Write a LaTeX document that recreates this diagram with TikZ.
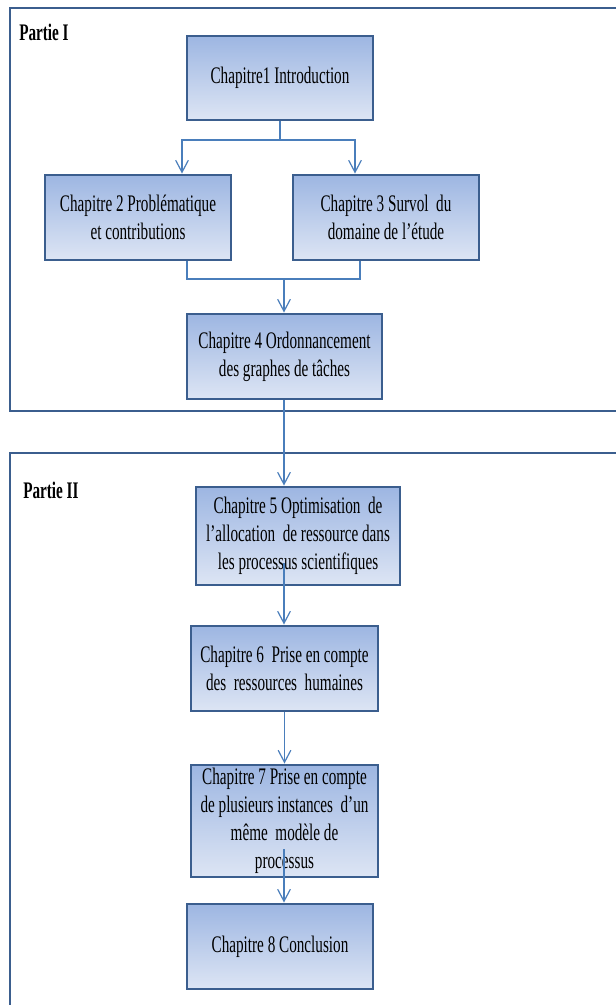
\documentclass[tikz,border=0pt]{standalone}
\usepackage{fontspec}
\setmainfont{Liberation Serif}[FakeStretch=0.64]
\usepackage{tikz}
\usetikzlibrary{arrows.meta, calc, positioning}
\definecolor{partframe}{HTML}{3B5E8E}
\definecolor{linkblue}{HTML}{4A7EBB}
\definecolor{boxtop}{HTML}{9DB6E2}
\definecolor{boxbottom}{HTML}{DDE5F4}
\tikzset{
  chap/.style={draw=partframe, line width=2.2pt, top color=boxtop, bottom color=boxbottom,
    align=center, inner sep=1pt, font=\fontsize{17.8}{21}\selectfont},
  partie/.style={anchor=west, inner sep=0pt, font=\fontsize{17.8}{21}\selectfont\bfseries},
  link/.style={draw=linkblue, line width=0.9pt},
  arrow/.style={link, -{Straight Barb[length=9pt, width=9.5pt, line width=0.9pt]}}
}

\begin{document}
\begin{tikzpicture}[x=0.75pt, y=-0.75pt]
			\useasboundingbox (0,0) rectangle (615,1005);
			\draw [partframe, line width=2.2pt] (10,8) rectangle (640,411);
			\draw [partframe, line width=2.2pt] (10,453) rectangle (640,1030);
			\node[partie] (p1) at (19,32) {Partie I};
			\node[partie] (p2) at (23,490) {Partie II};
			\node[chap, minimum width=139.5pt, minimum height=63pt] (b1) at (280,78) {Chapitre1 Introduction};
			\node[chap, minimum width=139.5pt, minimum height=63.75pt] (b2) at (138,217.5) {Chapitre 2 Problématique\\et contributions};
			\node[chap, minimum width=139.5pt, minimum height=63.75pt] (b3) at (386,217.5) {Chapitre 3 Survol~ du\\domaine de l’étude};
			\node[chap, minimum width=146.25pt, minimum height=63.75pt] (b4) at (284.5,356.5) {Chapitre 4 Ordonnancement\\des graphes de tâches};
			\node[chap, minimum width=153pt, minimum height=73.5pt] (b5) at (298,536) {Chapitre 5 Optimisation~ de\\l’allocation~ de ressource dans\\les processus scientifiques};
			\node[chap, minimum width=140.25pt, minimum height=63.75pt] (b6) at (284.5,668.5) {Chapitre 6~ Prise en compte\\des~ ressources~ humaines};
			\node[chap, minimum width=140.25pt, minimum height=84pt, inner ysep=0pt] (b7) at (284.5,821) {Chapitre 7 Prise en compte\\de plusieurs instances~ d’un\\même~ modèle de\\processus};
			\node[chap, minimum width=139.5pt, minimum height=63.75pt] (b8) at (280,946.5) {Chapitre 8 Conclusion};
			\draw [link] (b1.south) -- (280,140) coordinate (split);
			\draw [arrow] (split) -| (182,0 |- b2.north);
			\draw [arrow] (split) -| (355,0 |- b3.north);
			\draw [link] (187,0 |- b2.south) |- (360,279) -- (360,0 |- b3.south);
			\draw [arrow] (284,279) -- (284,0 |- b4.north);
			\draw [arrow] (284,0 |- b4.south) -- (284,0 |- b5.north);
			\draw [arrow] (284,563) -- (284,0 |- b6.north);
			\draw [arrow] (b6.south) -- (b7.north);
			\draw [arrow] (284,849) -- (284,0 |- b8.north);
		\end{tikzpicture}
\end{document}
